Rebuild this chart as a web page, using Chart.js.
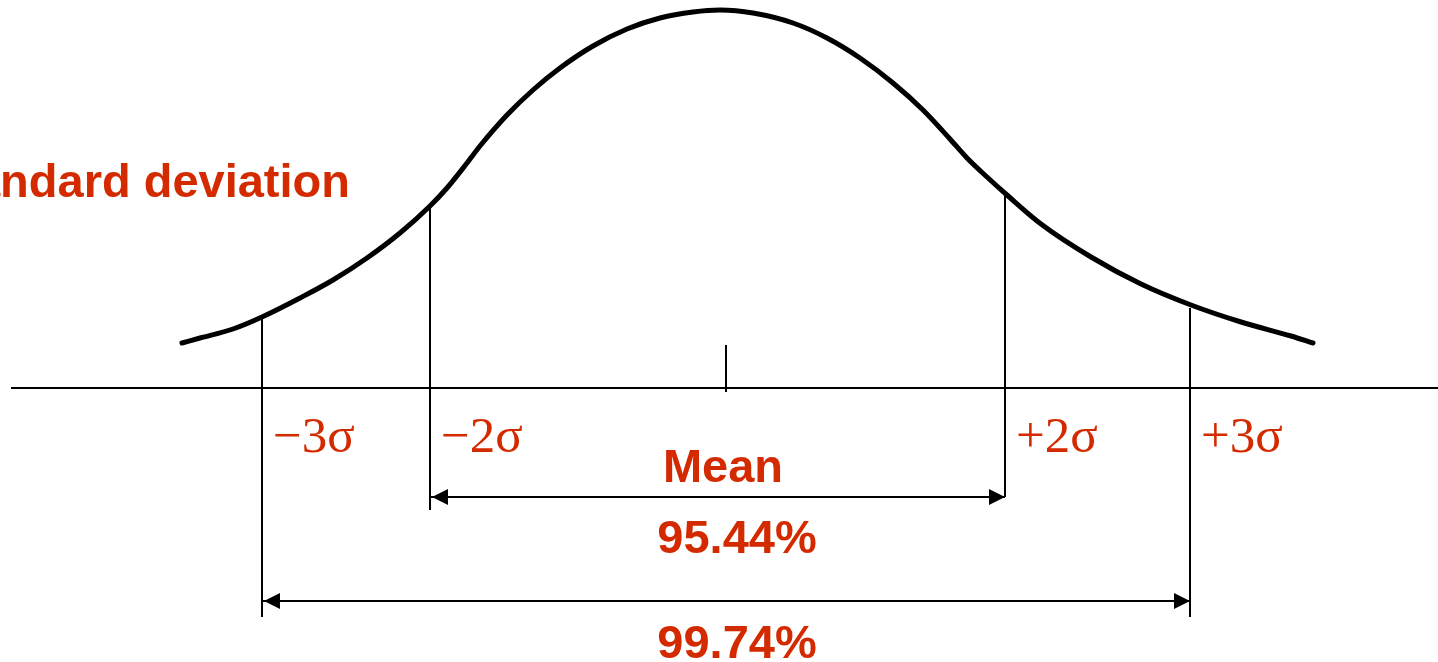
<!DOCTYPE html>
<html>
<head>
<meta charset="utf-8">
<script src="https://cdn.jsdelivr.net/npm/chart.js@4"></script>
<style>
  html, body { margin: 0; padding: 0; background: #fff; overflow: hidden; }
  #bellChart { display: block; }
</style>
</head>
<body>
<canvas id="bellChart" width="1438" height="662"></canvas>
<script>
// bell curve: x = position along the axis, y = height above the axis
const curveX = [182, 200, 233, 262, 300, 333, 367, 400, 430, 447, 467, 480, 507, 533, 560, 593, 627, 660, 693, 720,
    753, 793, 827, 860, 893, 923, 950, 967, 987, 1007, 1041, 1091, 1141, 1191, 1241, 1291, 1313];
const curveY = [45, 50, 59, 71, 90, 108, 130, 155, 182, 200, 225, 242, 273, 298, 320, 342, 359, 370, 376, 378,
    375, 365, 350, 330, 305, 278, 249, 230, 211, 193, 164, 131, 104, 83, 66, 52, 45];

const axisFrom = 11;
const axisTo = 1438;

const meanPos = 726;
const meanTick = [43, -4];

const sigmaLabels = ['\u22123\u03c3', '\u22122\u03c3', '+2\u03c3', '+3\u03c3'];
const sigmaPos = [262, 430, 1005, 1190];
const sigmaTop = [70, 183, 193, 80];
const sigmaBottom = [-229, -122, -109, -229];

const rangeLabels = ['95.44%', '99.74%'];
const rangeFrom = [430, 262];
const rangeTo = [1005, 1190];
const rangeLevel = [-109, -213];

const RED = '#d42a00';

function arrowHead(ctx, px, py, dir) {
    ctx.beginPath();
    ctx.moveTo(px, py);
    ctx.lineTo(px + dir * 16, py - 8);
    ctx.lineTo(px + dir * 16, py + 8);
    ctx.closePath();
    ctx.fill();
}

// arrow heads and all the red text
const annotatePlugin = {
    id: 'annotate',
    afterDatasetsDraw(chart) {
        const ctx = chart.ctx;
        const x = chart.scales.x;
        const y = chart.scales.y;
        const base = y.getPixelForValue(0);
        ctx.save();

        ctx.fillStyle = '#000';
        rangeFrom.forEach((from, i) => {
            const py = y.getPixelForValue(rangeLevel[i]);
            arrowHead(ctx, x.getPixelForValue(from) + 2, py, 1);
            arrowHead(ctx, x.getPixelForValue(rangeTo[i]), py, -1);
        });

        ctx.fillStyle = RED;
        ctx.textBaseline = 'alphabetic';

        ctx.font = '51px "Liberation Serif"';
        ctx.textAlign = 'left';
        sigmaLabels.forEach((t, i) => {
            ctx.fillText(t, x.getPixelForValue(sigmaPos[i]) + 11, base + 64);
        });

        ctx.font = 'bold 47px "Liberation Sans"';
        ctx.textAlign = 'center';
        ctx.fillText('Mean', x.getPixelForValue(meanPos) - 3, base + 94);
        ctx.fillText(rangeLabels[0], x.getPixelForValue(meanPos) + 11, base + 165);
        ctx.fillText(rangeLabels[1], x.getPixelForValue(meanPos) + 11, base + 270);

        ctx.textAlign = 'right';
        ctx.fillText('Standard deviation', 350, 197);

        ctx.restore();
    }
};

const lineStyle = { borderColor: '#000', borderWidth: 2, pointRadius: 0, tension: 0, fill: false };

const datasets = [
    {
        data: curveX.map((v, i) => ({ x: v, y: curveY[i] })),
        borderColor: '#000',
        borderWidth: 5,
        borderCapStyle: 'round',
        borderJoinStyle: 'round',
        pointRadius: 0,
        cubicInterpolationMode: 'monotone',
        fill: false
    },
    { ...lineStyle, data: [{ x: axisFrom, y: 0 }, { x: axisTo, y: 0 }] },
    { ...lineStyle, data: [{ x: meanPos, y: meanTick[0] }, { x: meanPos, y: meanTick[1] }] }
];

sigmaPos.forEach((p, i) => {
    datasets.push({ ...lineStyle, data: [{ x: p, y: sigmaTop[i] }, { x: p, y: sigmaBottom[i] }] });
});
rangeFrom.forEach((from, i) => {
    datasets.push({ ...lineStyle, data: [{ x: from, y: rangeLevel[i] }, { x: rangeTo[i], y: rangeLevel[i] }] });
});

const bellCtx = document.getElementById('bellChart').getContext('2d');
new Chart(bellCtx, {
    type: 'line',
    data: { datasets: datasets },
    options: {
        responsive: false,
        animation: false,
        events: [],
        layout: { padding: 0 },
        plugins: {
            legend: { display: false },
            tooltip: { enabled: false }
        },
        scales: {
            x: { type: 'linear', min: 0, max: 1438, display: false },
            y: { type: 'linear', min: -274, max: 388, display: false }
        }
    },
    plugins: [annotatePlugin]
});
</script>
</body>
</html>
